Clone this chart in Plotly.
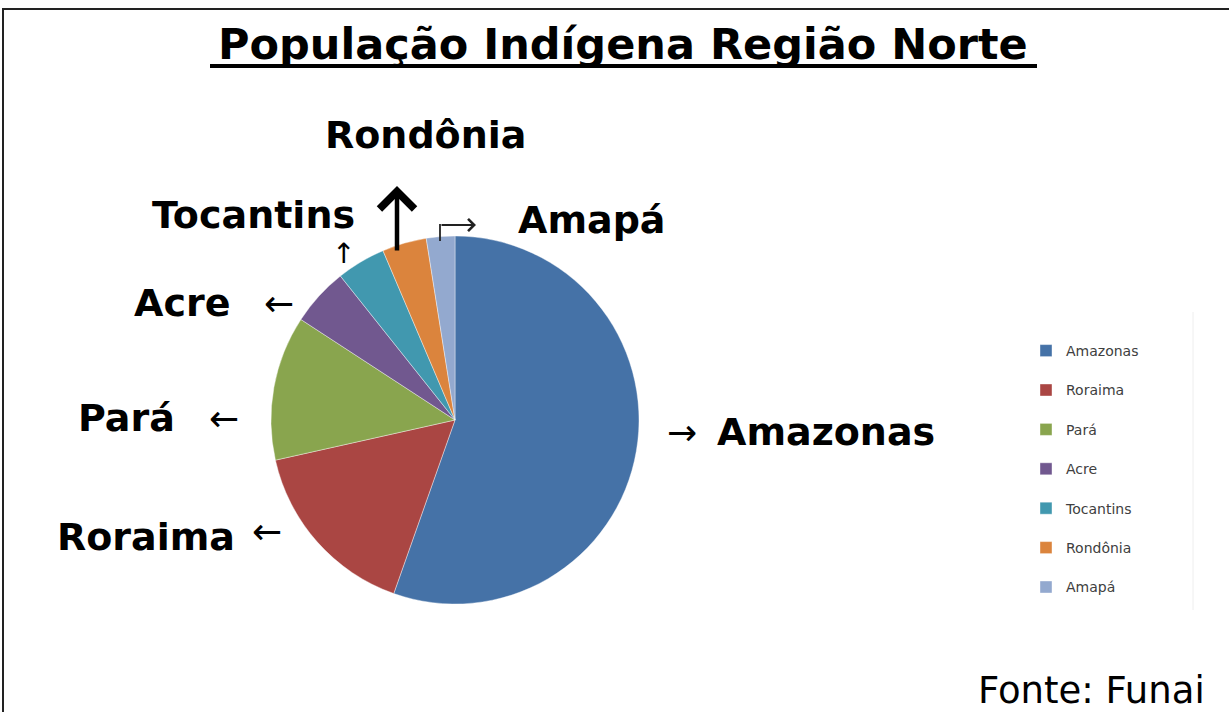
import plotly.graph_objects as go

# Data (percent shares)
regions = ["Amazonas", "Roraima", "Pará", "Acre", "Tocantins", "Rondônia", "Amapá"]
shares = [55.4, 16.1, 12.7, 5.1, 4.3, 3.9, 2.5]
colors = ["#4572A7", "#AA4643", "#89A54E", "#71588F", "#4198AF", "#DB843D", "#93A9CF"]

W, H = 1229, 712
def px(x):
    return x / W
def py(y):
    return 1 - y / H

# pie geometry (pixels)
cx, cy, r = 455, 420, 184

legend_labels = [name + "<br> " for name in regions]

fig = go.Figure()
fig.add_trace(go.Pie(
    labels=legend_labels,
    values=shares,
    sort=False,
    direction="clockwise",
    rotation=0,
    marker=dict(colors=colors, line=dict(color="white", width=0.4)),
    textinfo="none",
    hovertext=regions,
    hoverinfo="text+percent",
    domain=dict(x=[px(cx - r), px(cx + r)], y=[py(cy + r), py(cy - r)]),
))

LBL = dict(family="DejaVu Sans", size=38, color="black")
ARR = dict(family="DejaVu Sans", size=36, color="black")

ann = []
def text(x, y, t, font, xanchor="center"):
    ann.append(dict(x=px(x), y=py(y), xref="paper", yref="paper", text=t,
                    showarrow=False, font=font, xanchor=xanchor, yanchor="middle"))

# title
text(623, 44, "<b>População Indígena Região Norte</b>", dict(family="DejaVu Sans", size=43, color="black"))
# slice labels
text(715, 432, "<b>Amazonas</b>", LBL, "left")
text(682, 432, "→", ARR)
text(237, 537, "<b>Roraima</b>", LBL, "right")
text(267, 531, "←", ARR)
text(177, 418, "<b>Pará</b>", LBL, "right")
text(224, 418, "←", ARR)
text(232, 303, "<b>Acre</b>", LBL, "right")
text(279, 303, "←", ARR)
text(357, 215, "<b>Tocantins</b>", LBL, "right")
text(343, 254, "↑", dict(family="DejaVu Sans", size=28, color="black"))
text(425, 135, "<b>Rondônia</b>", LBL)
text(668, 220, "<b>Amapá</b>", LBL, "right")
# source
text(1207, 690, "Fonte: Funai", dict(family="DejaVu Sans", size=37, color="black"), "right")

# big arrow above Rondônia
ann.append(dict(x=px(397), y=py(186), ax=0, ay=66, xref="paper", yref="paper",
                axref="pixel", ayref="pixel", text="", showarrow=True,
                arrowhead=4, arrowwidth=4.5, arrowsize=1.5, arrowcolor="black"))
# bent arrow near Amapá
ann.append(dict(x=px(476), y=py(225), ax=-36, ay=0, xref="paper", yref="paper",
                axref="pixel", ayref="pixel", text="", showarrow=True,
                arrowhead=4, arrowwidth=1.8, arrowsize=1.3, arrowcolor="#222"))

fig.update_layout(
    width=W, height=H, autosize=False,
    margin=dict(l=0, r=0, t=0, b=0),
    paper_bgcolor="white", plot_bgcolor="white",
    annotations=ann,
    showlegend=True,
    legend=dict(x=px(1026), y=py(335), xanchor="left", yanchor="top",
                valign="top", font=dict(family="DejaVu Sans", size=14, color="#404040"),
                bgcolor="rgba(0,0,0,0)", itemclick=False),
    shapes=[
        dict(type="line", xref="paper", yref="paper", x0=px(210), x1=px(1037),
             y0=py(66), y1=py(66), line=dict(color="black", width=4)),
        dict(type="rect", xref="paper", yref="paper", x0=px(3), x1=px(1240),
             y0=py(720), y1=py(9), line=dict(color="#222", width=2)),
        dict(type="line", xref="paper", yref="paper", x0=px(1193), x1=px(1193),
             y0=py(312), y1=py(610), line=dict(color="#eeeeee", width=1)),
        dict(type="line", xref="paper", yref="paper", x0=px(440), x1=px(440),
             y0=py(241), y1=py(224), line=dict(color="#222", width=1.8)),
    ],
)

fig.write_html("out.html", config={"displayModeBar": False},
               post_script="document.body.style.margin='0';")
